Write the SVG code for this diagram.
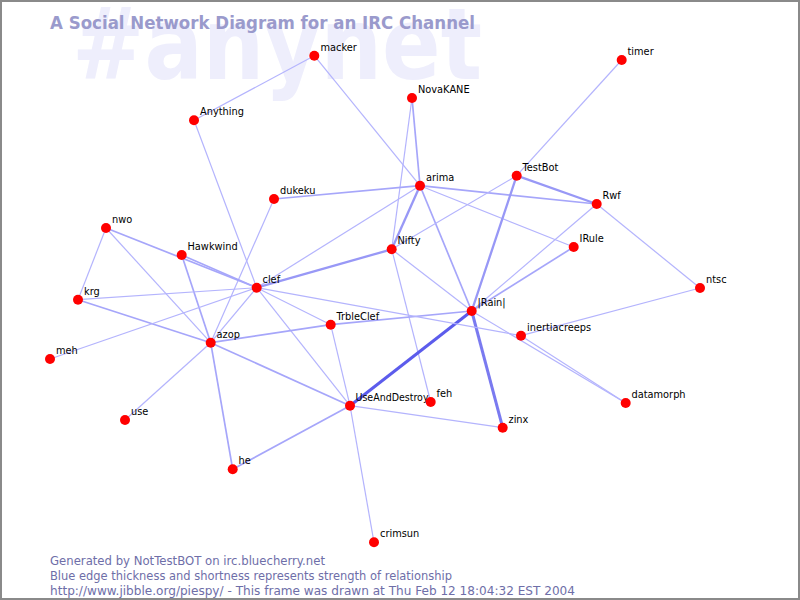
<svg xmlns="http://www.w3.org/2000/svg" width="800" height="600" viewBox="0 0 800 600">
<style>
.e1{stroke:#b4b4fd;stroke-width:1.2;fill:none}
.e2{stroke:#a6a6fa;stroke-width:1.7;fill:none}
.e3{stroke:#9898f6;stroke-width:2.3;fill:none}
.e4{stroke:#7a7af0;stroke-width:3;fill:none}
.e5{stroke:#5c5cec;stroke-width:3;fill:none}
.dot{fill:#ff0000}
.lbl{font-family:"DejaVu Sans",sans-serif;font-size:9.8px;fill:#000}
.foot{font-family:"DejaVu Sans",sans-serif;font-size:11.5px;fill:#6e6ea8}
</style>
<rect x="1" y="1" width="798" height="598" fill="#ffffff" stroke="#8a8a8a" stroke-width="2"/>
<text x="72" y="79" font-family="DejaVu Sans, sans-serif" font-weight="bold" font-size="100" fill="#eeeefc" textLength="410" lengthAdjust="spacingAndGlyphs">#anynet</text>
<text x="50" y="29" font-family="DejaVu Sans, sans-serif" font-weight="bold" font-size="18" fill="#9a9acc" textLength="425" lengthAdjust="spacingAndGlyphs">A Social Network Diagram for an IRC Channel</text>
<g id="connectors">
<line class="e1" x1="314.3" y1="55.7" x2="194" y2="120.3"/>
<line class="e1" x1="314.3" y1="55.7" x2="420" y2="185.7"/>
<line class="e1" x1="621.7" y1="60" x2="516.7" y2="175.7"/>
<line class="e1" x1="412" y1="98" x2="391.7" y2="249.3"/>
<line class="e2" x1="412" y1="98" x2="420" y2="185.7"/>
<line class="e3" x1="420" y1="185.7" x2="391.7" y2="249.3"/>
<line class="e2" x1="420" y1="185.7" x2="274" y2="199"/>
<line class="e1" x1="420" y1="185.7" x2="256.7" y2="287.7"/>
<line class="e2" x1="420" y1="185.7" x2="596.7" y2="204"/>
<line class="e1" x1="420" y1="185.7" x2="573.7" y2="247"/>
<line class="e2" x1="420" y1="185.7" x2="471.7" y2="311"/>
<line class="e1" x1="391.7" y1="249.3" x2="516.7" y2="175.7"/>
<line class="e3" x1="516.7" y1="175.7" x2="596.7" y2="204"/>
<line class="e3" x1="516.7" y1="175.7" x2="471.7" y2="311"/>
<line class="e1" x1="596.7" y1="204" x2="471.7" y2="311"/>
<line class="e1" x1="596.7" y1="204" x2="700" y2="288"/>
<line class="e2" x1="573.7" y1="247" x2="471.7" y2="311"/>
<line class="e1" x1="391.7" y1="249.3" x2="471.7" y2="311"/>
<line class="e1" x1="391.7" y1="249.3" x2="430.7" y2="402"/>
<line class="e3" x1="256.7" y1="287.7" x2="391.7" y2="249.3"/>
<line class="e2" x1="471.7" y1="311" x2="330.7" y2="324.7"/>
<line class="e5" x1="471.7" y1="311" x2="350" y2="405.7"/>
<line class="e4" x1="471.7" y1="311" x2="502.7" y2="427.7"/>
<line class="e1" x1="471.7" y1="311" x2="625.7" y2="403"/>
<line class="e1" x1="521" y1="335.7" x2="625.7" y2="403"/>
<line class="e1" x1="521" y1="335.7" x2="700" y2="288"/>
<line class="e1" x1="256.7" y1="287.7" x2="521" y2="335.7"/>
<line class="e1" x1="194" y1="120.3" x2="256.7" y2="287.7"/>
<line class="e1" x1="274" y1="199" x2="210.7" y2="342.7"/>
<line class="e2" x1="106" y1="228" x2="256.7" y2="287.7"/>
<line class="e2" x1="181.7" y1="255" x2="256.7" y2="287.7"/>
<line class="e2" x1="181.7" y1="255" x2="210.7" y2="342.7"/>
<line class="e1" x1="106" y1="228" x2="78" y2="299.7"/>
<line class="e1" x1="106" y1="228" x2="210.7" y2="342.7"/>
<line class="e1" x1="78" y1="299.7" x2="256.7" y2="287.7"/>
<line class="e2" x1="78" y1="299.7" x2="210.7" y2="342.7"/>
<line class="e1" x1="50" y1="359" x2="256.7" y2="287.7"/>
<line class="e1" x1="125" y1="420" x2="210.7" y2="342.7"/>
<line class="e1" x1="256.7" y1="287.7" x2="210.7" y2="342.7"/>
<line class="e1" x1="256.7" y1="287.7" x2="330.7" y2="324.7"/>
<line class="e1" x1="256.7" y1="287.7" x2="350" y2="405.7"/>
<line class="e2" x1="210.7" y1="342.7" x2="330.7" y2="324.7"/>
<line class="e1" x1="330.7" y1="324.7" x2="350" y2="405.7"/>
<line class="e2" x1="210.7" y1="342.7" x2="350" y2="405.7"/>
<line class="e2" x1="210.7" y1="342.7" x2="232.7" y2="469.3"/>
<line class="e2" x1="232.7" y1="469.3" x2="350" y2="405.7"/>
<line class="e1" x1="350" y1="405.7" x2="502.7" y2="427.7"/>
<line class="e1" x1="350" y1="405.7" x2="374" y2="542.3"/>
</g>
<g id="node-macker"><circle class="dot" cx="314.3" cy="55.7" r="5"/><text class="lbl" x="320.5" y="50.5">macker</text></g>
<g id="node-timer"><circle class="dot" cx="621.7" cy="60" r="5"/><text class="lbl" x="627.5" y="55">timer</text></g>
<g id="node-NovaKANE"><circle class="dot" cx="412" cy="98" r="5"/><text class="lbl" x="418" y="93">NovaKANE</text></g>
<g id="node-Anything"><circle class="dot" cx="194" cy="120.3" r="5"/><text class="lbl" x="200" y="115.3">Anything</text></g>
<g id="node-arima"><circle class="dot" cx="420" cy="185.7" r="5"/><text class="lbl" x="426" y="180.5">arima</text></g>
<g id="node-TestBot"><circle class="dot" cx="516.7" cy="175.7" r="5"/><text class="lbl" x="522.5" y="170.5">TestBot</text></g>
<g id="node-Rwf"><circle class="dot" cx="596.7" cy="204" r="5"/><text class="lbl" x="602.5" y="199">Rwf</text></g>
<g id="node-IRule"><circle class="dot" cx="573.7" cy="247" r="5"/><text class="lbl" x="579.5" y="242">IRule</text></g>
<g id="node-dukeku"><circle class="dot" cx="274" cy="199" r="5"/><text class="lbl" x="280" y="194">dukeku</text></g>
<g id="node-nwo"><circle class="dot" cx="106" cy="228" r="5"/><text class="lbl" x="112" y="223">nwo</text></g>
<g id="node-Hawkwind"><circle class="dot" cx="181.7" cy="255" r="5"/><text class="lbl" x="187.5" y="250">Hawkwind</text></g>
<g id="node-Nifty"><circle class="dot" cx="391.7" cy="249.3" r="5"/><text class="lbl" x="397.5" y="244.3">Nifty</text></g>
<g id="node-clef"><circle class="dot" cx="256.7" cy="287.7" r="5"/><text class="lbl" x="262.5" y="282.7">clef</text></g>
<g id="node-ntsc"><circle class="dot" cx="700" cy="288" r="5"/><text class="lbl" x="706" y="283">ntsc</text></g>
<g id="node-krg"><circle class="dot" cx="78" cy="299.7" r="5"/><text class="lbl" x="84" y="294.7">krg</text></g>
<g id="node-Rain"><circle class="dot" cx="471.7" cy="311" r="5"/><text class="lbl" x="477.5" y="306">|Rain|</text></g>
<g id="node-TrbleClef"><circle class="dot" cx="330.7" cy="324.7" r="5"/><text class="lbl" x="336.5" y="319.7">TrbleClef</text></g>
<g id="node-inertiacreeps"><circle class="dot" cx="521" cy="335.7" r="5"/><text class="lbl" x="527" y="330.7">inertiacreeps</text></g>
<g id="node-azop"><circle class="dot" cx="210.7" cy="342.7" r="5"/><text class="lbl" x="216.5" y="337.7">azop</text></g>
<g id="node-meh"><circle class="dot" cx="50" cy="359" r="5"/><text class="lbl" x="56" y="354">meh</text></g>
<g id="node-datamorph"><circle class="dot" cx="625.7" cy="403" r="5"/><text class="lbl" x="631.5" y="398">datamorph</text></g>
<g id="node-UseAndDestroy"><circle class="dot" cx="350" cy="405.7" r="5"/><text class="lbl" x="355.5" y="400.7" textLength="73" lengthAdjust="spacingAndGlyphs">UseAndDestroy</text></g>
<g id="node-feh"><circle class="dot" cx="430.7" cy="402" r="5"/><text class="lbl" x="436.5" y="397">feh</text></g>
<g id="node-use"><circle class="dot" cx="125" cy="420" r="5"/><text class="lbl" x="131" y="415">use</text></g>
<g id="node-zinx"><circle class="dot" cx="502.7" cy="427.7" r="5"/><text class="lbl" x="508.5" y="422.7">zinx</text></g>
<g id="node-he"><circle class="dot" cx="232.7" cy="469.3" r="5"/><text class="lbl" x="238.5" y="464.3">he</text></g>
<g id="node-crimsun"><circle class="dot" cx="374" cy="542.3" r="5"/><text class="lbl" x="380" y="537.3">crimsun</text></g>
<text class="foot" x="50" y="565" textLength="275" lengthAdjust="spacingAndGlyphs">Generated by NotTestBOT on irc.bluecherry.net</text>
<text class="foot" x="50" y="580" textLength="402" lengthAdjust="spacingAndGlyphs">Blue edge thickness and shortness represents strength of relationship</text>
<text class="foot" x="50" y="595" textLength="525" lengthAdjust="spacingAndGlyphs">http://www.jibble.org/piespy/ - This frame was drawn at Thu Feb 12 18:04:32 EST 2004</text>
</svg>
